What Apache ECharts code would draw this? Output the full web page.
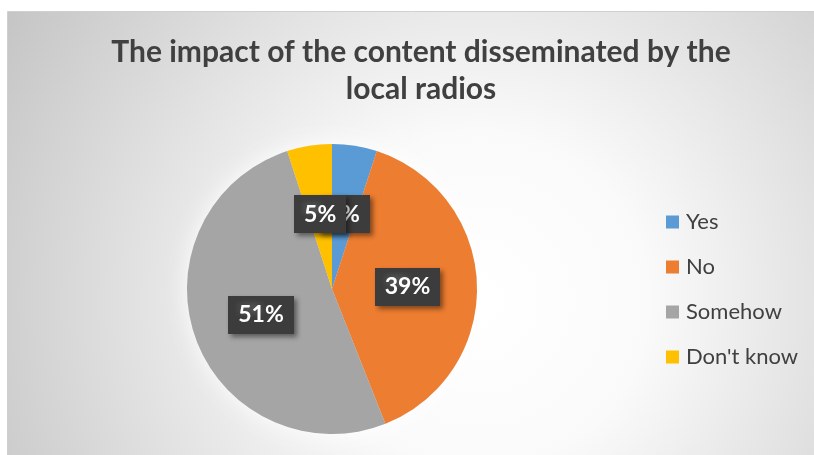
<!DOCTYPE html>
<html>
<head>
<meta charset="utf-8">
<script src="https://cdn.jsdelivr.net/npm/echarts@6/dist/echarts.min.js"></script>
<style>
  html, body { margin: 0; padding: 0; background: #ffffff; }
  #chart { width: 814px; height: 455px; }
</style>
</head>
<body>
<div id="chart"></div>
<script>
// Survey answers and their shares (percent)
const categories = ['Yes', 'No', 'Somehow', "Don't know"];
const shares = [5, 39, 51, 5];
const sliceColors = ['#5b9bd5', '#ed7d31', '#a5a5a5', '#ffc000'];
const chartTitle = 'The impact of the content disseminated by the\nlocal radios';

// Dotted dark texture for the value boxes
function dotPattern() {
  const c = document.createElement('canvas');
  c.width = 6; c.height = 6;
  const g = c.getContext('2d');
  g.fillStyle = '#3c3c3c';
  g.fillRect(0, 0, 6, 6);
  g.fillStyle = '#4e4e4e';
  g.fillRect(1, 1, 2, 2);
  return c;
}
const pattern = dotPattern();

const chart = echarts.init(document.getElementById('chart'), null, { renderer: 'canvas' });

const sliceData = categories.map((name, i) => ({
  name: name,
  value: shares[i],
  itemStyle: { color: sliceColors[i] }
}));

chart.setOption({
  animation: false,
  textStyle: { fontFamily: 'Lato, "Open Sans", sans-serif' },
  graphic: [
    {
      type: 'rect',
      silent: true,
      z: -10,
      shape: { x: 7.5, y: 11.5, width: 814, height: 450 },
      style: {
        fill: {
          type: 'radial', x: 480, y: 300, r: 560, global: true,
          colorStops: [
            { offset: 0, color: '#ffffff' },
            { offset: 0.3, color: '#fafafa' },
            { offset: 1, color: '#c4c4c4' }
          ]
        },
        stroke: '#d0d0d0',
        lineWidth: 1
      }
    }
  ],
  title: {
    text: chartTitle,
    left: 416,
    textAlign: 'center',
    top: 29,
    textStyle: {
      fontSize: 30,
      fontWeight: 'bold',
      color: '#404040',
      lineHeight: 37,
      fontFamily: 'Lato, "Open Sans", sans-serif'
    }
  },
  legend: {
    orient: 'vertical',
    left: 661,
    top: 206,
    icon: 'rect',
    itemWidth: 13,
    itemHeight: 13,
    itemGap: 23,
    data: categories,
    textStyle: {
      fontSize: 22,
      color: '#404040',
      lineHeight: 22,
      padding: [0, 0, 0, 2]
    }
  },
  series: [
    {
      // soft light halo beneath the pie
      type: 'pie',
      silent: true,
      center: [332, 289],
      radius: 145,
      z: 1,
      label: { show: false },
      labelLine: { show: false },
      itemStyle: {
        color: '#e8e8e8',
        shadowBlur: 22,
        shadowColor: 'rgba(255,255,255,0.9)'
      },
      data: [{ name: 'all', value: shares.reduce((a, b) => a + b, 0) }]
    },
    {
      type: 'pie',
      center: [332, 289],
      radius: 145,
      z: 2,
      startAngle: 90,
      clockwise: true,
      avoidLabelOverlap: false,
      data: sliceData,
      itemStyle: { borderWidth: 0 },
      labelLine: { show: false },
      label: {
        show: true,
        position: 'inside',
        formatter: '{c}%',
        color: '#ffffff',
        fontSize: 23,
        fontWeight: 'bold',
        backgroundColor: { image: pattern, repeat: 'repeat' },
        padding: [8, 10, 7, 10],
        shadowColor: 'rgba(0,0,0,0.45)',
        shadowBlur: 5,
        shadowOffsetX: 3,
        shadowOffsetY: 3
      },
      labelLayout: { hideOverlap: false }
    }
  ]
});
</script>
</body>
</html>
